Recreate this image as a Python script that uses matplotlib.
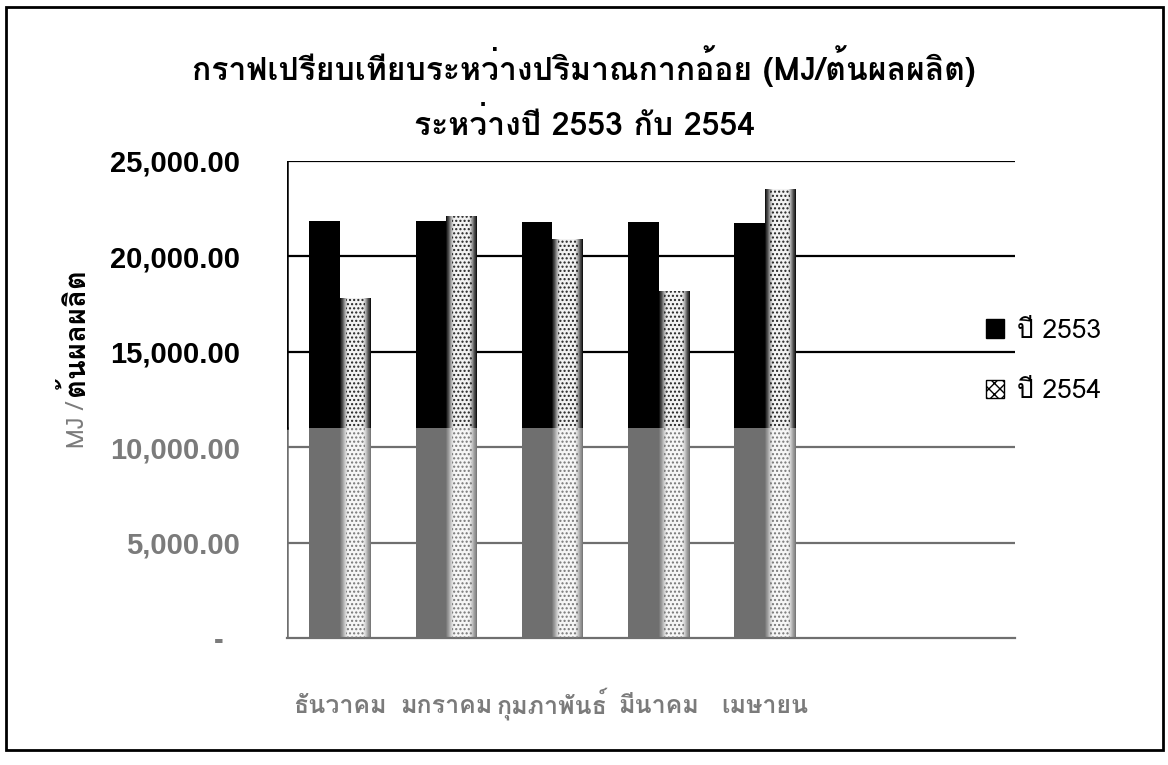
import numpy as np
import matplotlib
matplotlib.use("Agg")
import matplotlib.pyplot as plt
import matplotlib.font_manager as fm
from matplotlib.ft2font import FT2Font
from matplotlib.colors import LinearSegmentedColormap
from matplotlib.patches import Patch, Rectangle

# ---------------- data ----------------
months = ["ธันวาคม", "มกราคม", "กุมภาพันธ์", "มีนาคม", "เมษายน"]
series_names = ["ปี 2553", "ปี 2554"]
values_2553 = [21850, 21850, 21800, 21800, 21750]
values_2554 = [17800, 22100, 20900, 18200, 23550]
yticks = [0, 5000, 10000, 15000, 20000, 25000]
ytick_labels = ["-  ", "5,000.00", "10,000.00", "15,000.00", "20,000.00", "25,000.00"]
title_text = "กราฟเปรียบเทียบระหว่างปริมาณกากอ้อย (MJ/ต้นผลผลิต)\nระหว่างปี 2553 กับ 2554"
ylabel_a = "MJ /"
ylabel_b = "ต้นผลผลิต"

# --------------- fonts ----------------
def thai_family():
    names = []
    for f in fm.fontManager.ttflist:
        try:
            cm = FT2Font(f.fname).get_charmap()
        except Exception:
            continue
        if 0x0E01 in cm and f.name not in names:
            names.append(f.name)
    for p in ["Tahoma", "Loma", "Garuda", "Noto Sans Thai", "Waree", "Umpush"]:
        if p in names:
            return p
    return names[0] if names else None

thai = thai_family()
fam = ([thai] if thai else []) + ["Liberation Sans", "DejaVu Sans"]
plt.rcParams["font.family"] = fam

GREY = "#6f6f6f"
TXT_GREY = "#7b7b7b"
THRESH = 11000

fig = plt.figure(figsize=(11.68, 7.65), dpi=100)
ax = fig.add_axes([287/1168, 1-638/765, (1015-287)/1168, (638-161)/765])
ax.set_xlim(-0.5, 6.355)
ax.set_ylim(0, 25000)
ax.set_autoscale_on(False)

x = np.arange(len(months))
w = 0.29

for v in yticks[1:]:
    ax.axhline(v, color=("black" if v > THRESH else GREY), lw=1.6, zorder=0)

low53 = [min(v, THRESH) for v in values_2553]
high53 = [max(v - THRESH, 0) for v in values_2553]
ax.bar(x - w/2, low53, w, color=GREY, zorder=2, linewidth=0)
ax.bar(x - w/2, high53, w, bottom=low53, color="black", zorder=2, linewidth=0)

low54 = [min(v, THRESH) for v in values_2554]
high54 = [max(v - THRESH, 0) for v in values_2554]
b_low = ax.bar(x + w/2, low54, w, facecolor="none", linewidth=0, zorder=2)
b_high = ax.bar(x + w/2, high54, w, bottom=low54, facecolor="none", linewidth=0, zorder=2)

xs = np.linspace(-1, 1, 80)
prof = np.clip((1 - np.abs(xs)) / 0.5, 0, 1) ** 0.6
img = prof[None, :]
cm_hi = LinearSegmentedColormap.from_list("hi", ["#000000", "#4a4a4a", "#f2f2f2"])
cm_lo = LinearSegmentedColormap.from_list("lo", [GREY, "#9a9a9a", "#f6f6f6"])
for bars, cmap in ((b_high, cm_hi), (b_low, cm_lo)):
    for p in bars:
        x0, y0 = p.get_x(), p.get_y()
        im = ax.imshow(img, extent=(x0, x0 + p.get_width(), y0, y0 + p.get_height()),
                       aspect="auto", cmap=cmap, vmin=0, vmax=1, zorder=2.5,
                       interpolation="bilinear")
        im.set_clip_path(p)
for bars, c in ((b_high, "#222222"), (b_low, "#777777")):
    for p in bars:
        ax.add_patch(Rectangle((p.get_x() + p.get_width()*0.18, p.get_y()), p.get_width()*0.64,
                               p.get_height(), facecolor="none", edgecolor=c,
                               hatch="....", linewidth=0, zorder=2.6))

for s in ("top", "right", "left"):
    ax.spines[s].set_visible(False)
ax.spines["bottom"].set_color(GREY)
ax.spines["bottom"].set_linewidth(1.6)
ax.axvline(-0.5, ymin=0, ymax=THRESH/25000, color=GREY, lw=1.8, zorder=3)
ax.axvline(-0.5, ymin=THRESH/25000, ymax=1, color="black", lw=1.8, zorder=3)

ax.set_yticks(yticks)
ax.set_yticklabels(ytick_labels, family=["Liberation Sans", "DejaVu Sans"],
                   fontweight="bold", fontsize=21)
for lab, v in zip(ax.get_yticklabels(), yticks):
    lab.set_color("black" if v > THRESH else TXT_GREY)
ax.tick_params(axis="y", length=0, pad=34)
ax.set_xticks(x)
ax.set_xticklabels(months, fontsize=18, fontweight="bold", color=TXT_GREY)
for lab in ax.get_xticklabels():
    lab.set_verticalalignment("baseline")
ax.tick_params(axis="x", length=0, pad=54)

# y label in two colours, sharing a baseline
fig.text(84/1168, 1 - 402/765, ylabel_a, rotation=90, rotation_mode="anchor",
         ha="right", va="baseline", fontsize=17, color=TXT_GREY)
fig.text(84/1168, 1 - 396/765, ylabel_b, rotation=90, rotation_mode="anchor",
         ha="left", va="baseline", fontsize=21, fontweight="bold", color="black")

fig.text(0.5, 1 - 93/765, title_text, ha="center", va="center", fontsize=23,
         fontweight="bold", linespacing=1.75)

h1 = Patch(facecolor="black", edgecolor="black")
h2 = Patch(facecolor="white", edgecolor="black", hatch="xxx")
fig.legend([h1, h2], series_names, loc="center left",
           bbox_to_anchor=(962/1168, 1 - 361/765), frameon=False, fontsize=19,
           handlelength=0.7, handleheight=0.7, handletextpad=0.5, labelspacing=1.4)

fig.patches.append(Rectangle((6/1168, 1 - 750/765), 1157/1168, 743/765,
                             transform=fig.transFigure, fill=False,
                             edgecolor="black", linewidth=2))

fig.savefig("out.png", dpi=100)
